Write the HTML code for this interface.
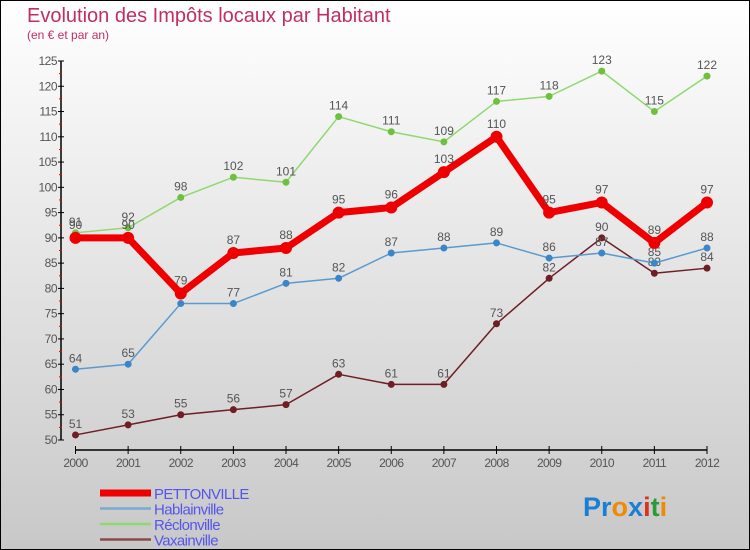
<!DOCTYPE html>
<html><head><meta charset="utf-8"><style>
html,body{margin:0;padding:0}
body{width:750px;height:550px;overflow:hidden;font-family:"Liberation Sans",sans-serif}
#wrap{position:relative;width:748px;height:548px;border:1px solid #000;background:linear-gradient(#ffffff,#f4f4f4 20%,#c8c8c8)}
svg text{font-family:"Liberation Sans",sans-serif}
</style></head><body>
<div id="wrap">
<svg id="chart" width="750" height="550" style="position:absolute;left:-1px;top:-1px">
<text x="27" y="22" font-size="20" fill="#c0305f">Evolution des Impôts locaux par Habitant</text>
<text x="27" y="39" font-size="12" fill="#c0305f">(en € et par an)</text>
<g id="axes"></g><g id="series"></g><g id="legend"></g>
<text x="583" y="516" font-size="27" font-weight="bold"><tspan fill="#1a7fd4">Pr</tspan><tspan fill="#f08a00">o</tspan><tspan fill="#1a7fd4">x</tspan><tspan fill="#e03020">i</tspan><tspan fill="#2a9a3a">t</tspan><tspan fill="#f08a00">i</tspan></text>
</svg>
</div>
<script>
const years=[2000,2001,2002,2003,2004,2005,2006,2007,2008,2009,2010,2011,2012];
const pettonville=[90,90,79,87,88,95,96,103,110,95,97,89,97];
const hablainville=[64,65,77,77,81,82,87,88,89,86,87,85,88];
const reclonville=[91,92,98,102,101,114,111,109,117,118,123,115,122];
const vaxainville=[51,53,55,56,57,63,61,61,73,82,90,83,84];
const yTicks=[50,55,60,65,70,75,80,85,90,95,100,105,110,115,120,125];
const NS="http://www.w3.org/2000/svg";
function X(i){return 75.5+i*(707-75.5)/(years.length-1);}
function Y(v){return 440-(v-50)*(440-61)/75;}
function mk(t,a,p){const e=document.createElementNS(NS,t);for(const k in a)e.setAttribute(k,a[k]);p.appendChild(e);return e;}
const ax=document.getElementById('axes');
let l=mk('line',{x1:61,y1:Y(125),x2:61,y2:440,stroke:'#000','stroke-width':1.5},ax);


l=mk('line',{x1:X(0),y1:450,x2:X(12),y2:450,stroke:'#000','stroke-width':1.5},ax);


yTicks.forEach(v=>{
 mk('line',{x1:58,y1:Y(v),x2:64,y2:Y(v),stroke:'#000'},ax);
 if(v<125)mk('line',{x1:59,y1:Y(v+2.5),x2:62,y2:Y(v+2.5),stroke:'#e00'},ax);
 const t=mk('text',{x:57,y:Y(v)+4,'text-anchor':'end','font-size':12,fill:'#555','letter-spacing':'-0.5'},ax);t.textContent=v;
 
 
});
years.forEach((y,i)=>{
 mk('line',{x1:X(i),y1:446,x2:X(i),y2:454,stroke:'#000'},ax);
 const t=mk('text',{x:X(i),y:467,'text-anchor':'middle','font-size':12,fill:'#555','letter-spacing':'-0.6'},ax);t.textContent=y;
 
 
});
const se=document.getElementById('series');
const defs=[
 {name:'vaxainville',d:vaxainville,c:'#6e1e24',w:1.5,r:3.5},
 {name:'hablainville',d:hablainville,c:'#5a9ad0',w:1.5,r:3.5},
 {name:'reclonville',d:reclonville,c:'#90d870',w:1.5,r:3.5},
 {name:'pettonville',d:pettonville,c:'#ee0000',w:7,r:6}
];
defs.forEach(s=>{
 const g=mk('g',{},se);
 
 
 const pl=mk('polyline',{points:s.d.map((v,i)=>X(i)+','+Y(v)).join(' '),fill:'none',stroke:s.c,'stroke-width':s.w,'stroke-linejoin':'round'},g);
 
 
 const dc=s.name==='reclonville'?'#70c040':s.name==='hablainville'?'#3a86c8':s.c;
 s.d.forEach((v,i)=>{
  const c=mk('circle',{cx:X(i),cy:Y(v),r:s.r,fill:dc},g);
  
  
  const t=mk('text',{x:X(i),y:Y(v)-(s.w>5?9:7),'text-anchor':'middle','font-size':12,fill:'#555'},g);t.textContent=v;
  
  
 });
});
const lg=document.getElementById('legend');
[['PETTONVILLE','#ee0000',7],['Hablainville','#7aaad0',2.5],['Réclonville','#90d870',2.5],['Vaxainville','#8a4a4a',2.5]].forEach((e,i)=>{
 const y=493+i*15.5;
 const ln=mk('line',{x1:100,y1:y,x2:151,y2:y,stroke:e[1],'stroke-width':e[2]},lg);
 
 
 const t=mk('text',{x:154,y:y+6,'font-size':15,fill:'#5555ee','letter-spacing':'-0.6'},lg);t.textContent=e[0];
 
 
});
</script>
</body></html>
